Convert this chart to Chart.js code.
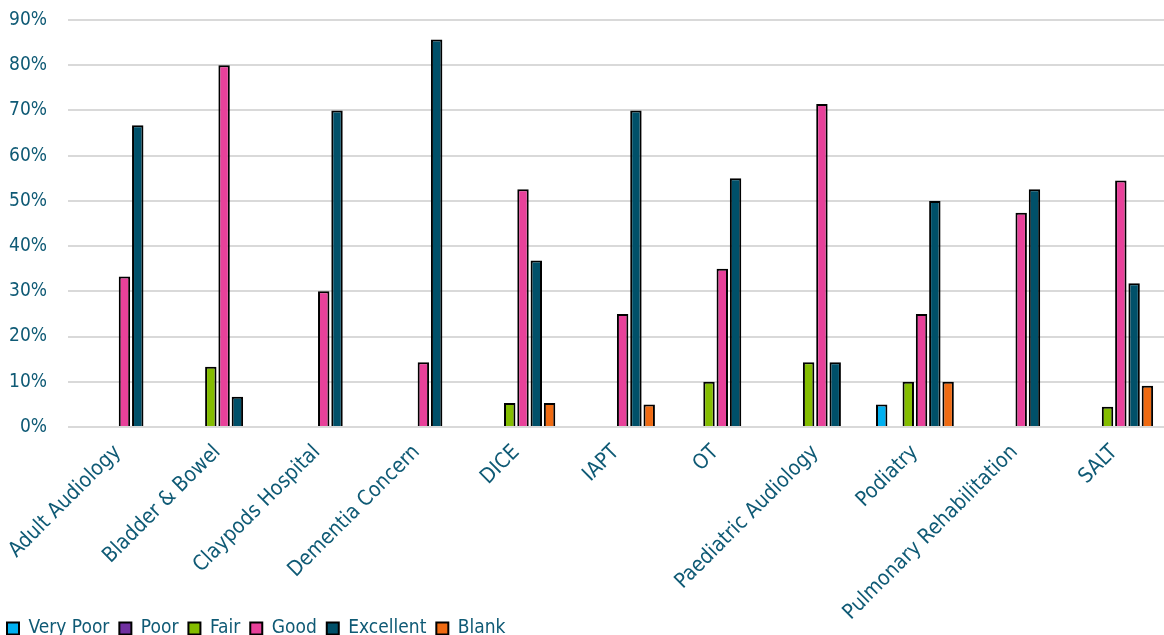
<!DOCTYPE html>
<html>
<head>
<meta charset="utf-8">
<script src="https://cdn.jsdelivr.net/npm/chart.js@4/dist/chart.umd.min.js"></script>
<style>
  html, body { margin: 0; padding: 0; background: #fff; }
  #wrap { width: 1164px; height: 635px; position: relative; }
</style>
</head>
<body>
<div id="wrap"><canvas id="c"></canvas></div>
<script>
const categories = ["Adult Audiology", "Bladder & Bowel", "Claypods Hospital", "Dementia Concern", "DICE", "IAPT", "OT", "Paediatric Audiology", "Podiatry", "Pulmonary Rehabilitation", "SALT"];
const veryPoor  = [null, null, null, null, null, null, null, null, 5, null, null];
const poor      = [null, null, null, null, null, null, null, null, null, null, null];
const fair      = [null, 13.3, null, null, 5.3, null, 10, 14.3, 10, null, 4.5];
const good      = [33.3, 80, 30, 14.3, 52.6, 25, 35, 71.4, 25, 47.4, 54.5];
const excellent = [66.7, 6.7, 70, 85.7, 36.8, 70, 55, 14.3, 50, 52.6, 31.8];
const blank     = [null, null, null, null, 5.3, 5, null, null, 10, null, 9.1];
const yTicks = [0, 10, 20, 30, 40, 50, 60, 70, 80, 90];

const textColor = '#0f5a75';
const fontFamily = '"DejaVu Sans Condensed", "DejaVu Sans", sans-serif';

const mk = (label, data, color) => ({
  label, data, backgroundColor: color, borderColor: '#000', borderWidth: 2,
  categoryPercentage: 0.8, barPercentage: 0.86, borderSkipped: 'bottom'
});

// let rotated x labels extend below the axis box (into the legend row area)
const unclipLabels = {
  id: 'unclipLabels',
  afterLayout(chart) { chart.scales.x.bottom = chart.height; }
};

new Chart(document.getElementById('c'), {
  type: 'bar',
  data: {
    labels: categories,
    datasets: [
      mk('Very Poor', veryPoor, '#00b0f0'),
      mk('Poor', poor, '#7030a0'),
      mk('Fair', fair, '#84bd00'),
      mk('Good', good, '#e8419a'),
      mk('Excellent', excellent, '#005069'),
      mk('Blank', blank, '#ef6a12')
    ]
  },
  plugins: [unclipLabels],
  options: {
    responsive: true,
    maintainAspectRatio: false,
    animation: false,
    layout: { padding: { left: -3, right: 0, top: 20, bottom: -13 } },
    plugins: {
      tooltip: { enabled: false },
      legend: {
        position: 'bottom',
        align: 'start',
        labels: {
          color: textColor,
          font: { family: fontFamily, size: 19 },
          boxWidth: 12, boxHeight: 12, padding: 10
        }
      }
    },
    scales: {
      x: {
        grid: { display: false },
        border: { display: false },
        afterFit: (s) => { s.paddingLeft = 0; s.paddingRight = 0; s.height = 182; },
        ticks: {
          color: textColor,
          font: { family: fontFamily, size: 21 },
          minRotation: 45, maxRotation: 45, padding: 5
        }
      },
      y: {
        min: 0, max: 90,
        afterBuildTicks: (axis) => { axis.ticks = yTicks.map(v => ({ value: v })); },
        afterFit: (s) => { s.paddingTop = 0; s.paddingBottom = 0; s.width = 71; },
        grid: { color: '#d9d9d9', lineWidth: 2, drawTicks: false },
        border: { display: false },
        ticks: {
          color: textColor,
          font: { family: fontFamily, size: 19 },
          padding: 21,
          callback: (v) => v + '%'
        }
      }
    }
  }
});
</script>
</body>
</html>
